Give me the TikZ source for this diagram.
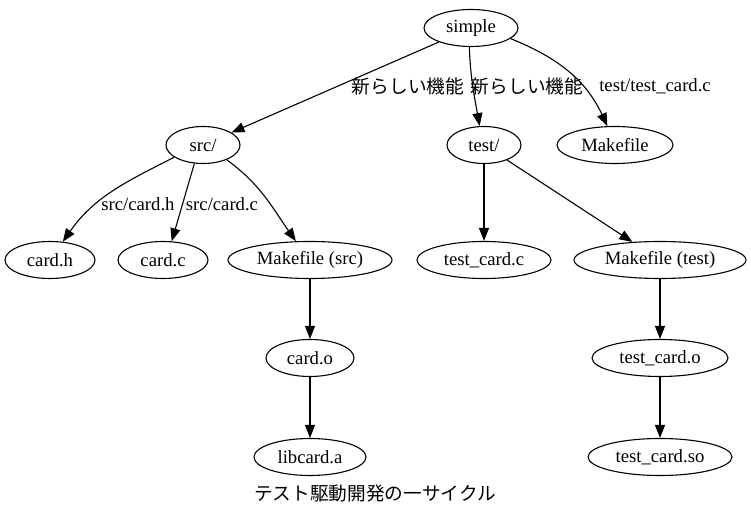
\documentclass[tikz,border=0pt]{standalone}
\usepackage{fontspec}
\setmainfont{Liberation Serif}
\newfontfamily\latn{Liberation Serif}
\newfontfamily\cjk{Noto Sans CJK JP}
\usetikzlibrary{shapes.geometric,arrows.meta}
\tikzset{
  every node/.style={font=\latn\fontsize{18.67pt}{22pt}\selectfont},
  nd/.style={draw, ellipse, line width=1.1pt, inner sep=0pt, minimum height=37pt},
  lbl/.style={inner sep=0pt},
  arr/.style={line width=1.1pt, -{Triangle[length=13pt,width=10pt]}},
}
\begin{document}
\begin{tikzpicture}[x=1pt,y=1pt]
\useasboundingbox (0,0) rectangle (751,516);
% nodes
\node[nd, minimum width=94pt]  (simple) at (471,488) {simple};
\node[nd, minimum width=74pt]  (src)    at (203,371) {src/};
\node[nd, minimum width=74pt]  (test)   at (484,371) {test/};
\node[nd, minimum width=116pt] (mk)     at (615,371) {Makefile};
\node[nd, minimum width=90pt]  (cardh)  at (50,256)  {card.h};
\node[nd, minimum width=90pt]  (cardc)  at (163,256) {card.c};
\node[nd, minimum width=164pt] (mksrc)  at (310,256) {Makefile (src)};
\node[nd, minimum width=134pt] (tcc)    at (484,256) {test\_card.c};
\node[nd, minimum width=172pt] (mktest) at (660,256) {Makefile (test)};
\node[nd, minimum width=88pt]  (cardo)  at (310,158) {card.o};
\node[nd, minimum width=136pt] (tco)    at (660,158) {test\_card.o};
\node[nd, minimum width=112pt] (libcard) at (310,59) {libcard.a};
\node[nd, minimum width=144pt] (tcso)   at (660,59)  {test\_card.so};
\node[lbl] (caption) at (375,23) {\cjk テスト駆動開発の一サイクル};
% edge labels
\node[lbl] (l1) at (408,430) {\cjk 新らしい機能};
\node[lbl] (l2) at (527,430) {\cjk 新らしい機能};
\node[lbl] (l3) at (655,430) {test/test\_card.c};
\node[lbl] (l4) at (138,312) {src/card.h};
\node[lbl] (l5) at (222,312) {src/card.c};
% edges
\draw[arr] (simple) -- (src);
\draw[arr] (simple.265) to[out=-88,in=100] (test.103);
\draw[arr] (simple.-15) to[out=-22,in=115] (mk.112);
\draw[arr] (src.203) to[out=207,in=55] (cardh.55);
\draw[arr] (src.245) -- (cardc.65);
\draw[arr] (src.-32) to[out=-36,in=125] (mksrc.127);
\draw[arr] (test) -- (tcc);
\draw[arr] (test) -- (mktest);
\draw[arr] (mksrc) -- (cardo);
\draw[arr] (cardo) -- (libcard);
\draw[arr] (mktest) -- (tco);
\draw[arr] (tco) -- (tcso);
\end{tikzpicture}
\end{document}
